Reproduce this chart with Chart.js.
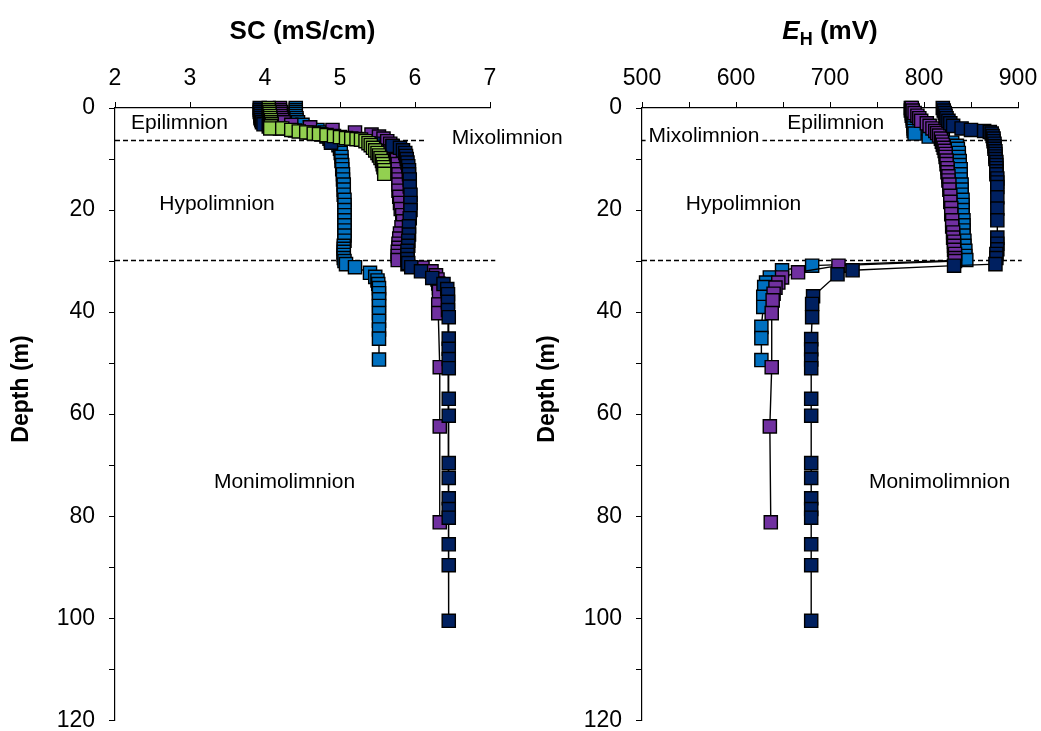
<!DOCTYPE html>
<html>
<head>
<meta charset="utf-8">
<title>SC and EH depth profiles</title>
<script src="https://cdn.jsdelivr.net/npm/chart.js@4.4.0/dist/chart.umd.min.js"></script>
<style>
  html, body { margin: 0; padding: 0; background: #fff; }
  #wrap { position: relative; width: 1041px; height: 731px; overflow: hidden; background: #fff; }
  #wrap canvas { position: absolute; top: 0; }
  #ehChart { left: 520px; z-index: 1; }
  #scChart { left: 0; z-index: 2; }
</style>
</head>
<body>
<div id="wrap">
  <canvas id="ehChart" width="521" height="731" style="width:521px;height:731px"></canvas>
  <canvas id="scChart" width="600" height="731" style="width:600px;height:731px"></canvas>
</div>
<script>
// ---------- Specific conductance profiles (depth in m, SC in mS/cm) ----------
const scGreenDepth = [0,0.4,0.8,1.2,1.6,2.0,2.4,2.8,3.2,3.6,4.0,4.0,4.3,4.6,4.8,5.0,5.1,5.3,5.5,5.7,5.9,6.0,6.1,6.2,6.5,6.9,7.3,7.8,8.3,8.8,9.3,9.8,10.4,11.0,11.6,12.2,12.9];
const scGreen = [4.05,4.05,4.06,4.06,4.07,4.07,4.08,4.08,4.09,4.08,4.07,4.23,4.35,4.45,4.55,4.65,4.72,4.82,4.92,5.0,5.08,5.15,5.22,5.28,5.34,5.38,5.41,5.44,5.47,5.5,5.52,5.54,5.56,5.57,5.58,5.59,5.59];

const scBlueDepth = [0,0.4,0.8,1.2,1.6,2.0,2.4,2.8,3.3,3.8,4.3,4.8,5.3,5.8,6.3,6.8,7.3,8.0,8.8,9.6,10.4,11.2,12.0,13,14,15,16,17,18,19,20,21,22,23,24,25,26,27,27.6,28.2,28.8,29.4,30.0,30.6,31.2,32.3,33.1,33.8,34.5,35.3,36.3,37.5,38.8,40.2,41.7,43.4,45.2,49.3];
const scBlue = [4.41,4.41,4.41,4.41,4.41,4.42,4.42,4.44,4.5,4.6,4.7,4.8,4.88,4.93,4.95,4.97,4.98,5.0,5.01,5.02,5.02,5.03,5.03,5.04,5.04,5.05,5.05,5.05,5.06,5.06,5.06,5.06,5.06,5.06,5.06,5.06,5.06,5.05,5.05,5.05,5.05,5.05,5.06,5.08,5.2,5.4,5.47,5.5,5.51,5.52,5.52,5.52,5.52,5.52,5.52,5.52,5.52,5.52];

const scPurpleDepth = [0,0.4,0.8,1.2,1.6,2.0,2.4,2.8,3.3,3.8,4.3,4.8,5.2,5.6,6.0,6.5,7.0,7.5,8.0,8.7,9.4,10.2,11.0,12.0,13.0,14.0,15.0,16.2,17.4,18.6,19.8,21.0,22.2,23.4,24.6,25.6,26.6,27.4,28.2,29.0,29.8,30.6,31.3,32.0,32.8,33.6,34.4,35.2,36.0,38.5,40.2,50.8,62.4,81.2];
const scPurple = [4.2,4.2,4.21,4.21,4.21,4.22,4.23,4.25,4.35,4.6,4.9,5.2,5.42,5.52,5.58,5.63,5.67,5.7,5.72,5.74,5.75,5.76,5.77,5.77,5.78,5.78,5.78,5.78,5.79,5.8,5.81,5.83,5.84,5.82,5.8,5.79,5.78,5.78,5.77,5.77,5.77,5.9,6.1,6.22,6.28,6.3,6.31,6.32,6.32,6.31,6.31,6.33,6.33,6.33];

const scNavyDepth = [0,0.4,0.8,1.2,1.6,2.0,2.4,2.8,3.2,3.6,4.0,4.4,4.8,5.2,5.6,6.0,6.4,6.8,7.0,7.4,7.8,8.3,8.8,9.4,10.0,10.7,11.4,12.2,13.0,14.0,15.4,17.0,18.6,20.0,21.6,23.2,24.8,26.0,27.0,28.0,28.8,29.6,30.4,31.2,32.0,33.3,34.5,35.5,36.5,38.0,39.6,41.0,45.2,47.2,49.2,51.0,57.0,60.3,69.6,72.5,76.5,78.6,80.3,85.5,89.6,100.5];
const scNavy = [3.93,3.93,3.93,3.94,3.94,3.94,3.95,3.96,3.98,4.05,4.2,4.4,4.6,4.75,4.82,4.86,4.88,4.88,5.45,5.7,5.8,5.84,5.87,5.88,5.89,5.9,5.91,5.92,5.92,5.93,5.93,5.94,5.94,5.94,5.93,5.92,5.92,5.91,5.91,5.9,5.9,5.9,5.91,5.95,6.08,6.23,6.38,6.43,6.44,6.44,6.44,6.45,6.45,6.45,6.45,6.45,6.45,6.45,6.45,6.45,6.45,6.45,6.45,6.45,6.45,6.45];

// ---------- Redox potential profiles (depth in m, EH in mV) ----------
const ehBlueDepth = [0,0.5,1.0,1.5,2.0,2.5,3.0,3.5,4.0,4.5,5.0,5.6,6.2,6.8,7.4,8.0,8.8,9.6,10.4,11.2,12.0,13,14,15,16,17,18,19,20,21,22,23,24,25,26,27,28,29,29.8,30.9,31.8,33.2,34.2,35.1,37.0,39.0,42.9,45.1,49.4];
const ehBlue = [786,786,787,787,788,788,789,789,789,789,790,805,820,830,835,836,837,837,838,838,839,839,839,840,840,840,841,841,841,841,842,842,842,842,843,843,844,844,845,681,649,636,632,630,629,629,627,627,627];

const ehPurpleDepth = [0,0.5,1.0,1.5,2.0,2.5,3.0,3.5,4.0,4.5,4.9,5.4,6.0,6.6,7.2,7.8,8.4,9.0,9.6,10.3,11.0,11.8,12.6,13.4,14.2,15.0,16.0,17.2,18.4,19.6,20.8,22.0,23.2,24.4,25.4,26.2,27.0,27.8,28.6,29.4,30.0,30.9,32.2,33.2,34.2,35.2,36.4,37.7,40.2,50.8,62.4,81.2];
const ehPurple = [787,788,790,793,795,797,803,806,809,812,814,816,818,819,820,821,822,823,823,824,824,825,825,826,826,827,827,828,828,829,829,830,830,831,831,832,832,832,833,833,833,709,666,649,645,642,640,639,638,638,636,637];

const ehNavyDepth = [0,0.5,1.0,1.5,2.0,2.5,3.0,3.5,4.0,4.3,4.5,4.7,5.0,5.5,6.0,6.5,7.0,7.5,8.0,8.5,9.0,9.5,10.0,10.6,11.2,11.8,12.4,13.0,13.8,14.6,15.5,17.5,19.7,22.0,25.4,26.6,27.7,28.6,29.4,30.6,30.9,31.8,32.6,36.9,38.4,41.0,45.3,47.3,49.3,51.0,57.0,60.3,69.6,72.5,76.5,78.6,80.3,85.5,89.6,100.5];
const ehNavy = [820,821,822,823,824,826,828,831,840,850,864,870,872,873,874,874,875,875,875,876,876,876,876,877,877,877,877,877,878,878,878,878,878,878,878,878,878,877,877,876,832,724,708,682,681,681,680,680,680,680,680,680,680,680,680,680,680,680,680,680];

// Axis tick values
const depthTicks = [0, 20, 40, 60, 80, 100, 120];
const scTicks = [2, 3, 4, 5, 6, 7];
const ehTicks = [500, 600, 700, 800, 900];

// Layer boundaries (m)
const mixoBottom = 6.2;
const hypoBottom = 29.7;

const COLORS = { green: '#92D050', purple: '#7030A0', blue: '#0070C0', navy: '#002060' };
const FONT = '"Liberation Sans", Arial, Helvetica, sans-serif';

Chart.defaults.color = '#000';
Chart.defaults.font.family = FONT;

function pairs(vals, depths) {
  return depths.map((d, i) => ({ x: vals[i], y: d }));
}

function profile(vals, depths, color, order) {
  return {
    data: pairs(vals, depths),
    showLine: true,
    borderColor: '#000',
    borderWidth: 1.4,
    tension: 0,
    pointStyle: 'rect',
    pointRadius: 9.3,
    pointBorderWidth: 1.4,
    pointBorderColor: '#000',
    pointBackgroundColor: color,
    backgroundColor: color,
    clip: false,
    order: order
  };
}

// Dashed layer boundaries, layer names and axis titles
const profilePlugin = {
  id: 'profileDecor',
  beforeDatasetsDraw(chart, args, opts) {
    const ctx = chart.ctx, xs = chart.scales.x, ys = chart.scales.y;
    ctx.save();
    ctx.strokeStyle = '#000';
    ctx.lineWidth = 1.3;
    ctx.setLineDash([5, 3]);
    opts.lines.forEach(l => {
      const y = Math.round(ys.getPixelForValue(l.depth)) + 0.5;
      ctx.beginPath();
      ctx.moveTo(xs.getPixelForValue(l.from), y);
      ctx.lineTo(xs.getPixelForValue(l.to), y);
      ctx.stroke();
    });
    ctx.setLineDash([]);
    ctx.font = '21px ' + FONT;
    ctx.textAlign = 'center';
    ctx.textBaseline = 'middle';
    opts.labels.forEach(t => {
      const x = xs.getPixelForValue(t.x), y = ys.getPixelForValue(t.y);
      if (t.box) {
        const w = ctx.measureText(t.text).width;
        ctx.fillStyle = '#fff';
        ctx.fillRect(x - w / 2 - 3, y - 12, w + 6, 24);
      }
      ctx.fillStyle = '#000';
      ctx.fillText(t.text, x, y);
    });
    ctx.restore();
  },
  afterDraw(chart, args, opts) {
    const ctx = chart.ctx, area = chart.chartArea;
    ctx.save();
    ctx.fillStyle = '#000';
    // depth title
    ctx.translate(opts.yTitleX, opts.yTitleY);
    ctx.rotate(-Math.PI / 2);
    ctx.font = 'bold 23px ' + FONT;
    ctx.textAlign = 'center';
    ctx.textBaseline = 'middle';
    ctx.fillText('Depth (m)', 0, 0);
    ctx.restore();
    // top title, built from runs so subscripts and italics can be mixed
    ctx.save();
    ctx.fillStyle = '#000';
    ctx.textBaseline = 'alphabetic';
    ctx.textAlign = 'left';
    const runs = opts.title;
    let total = 0;
    runs.forEach(r => { ctx.font = r.font; r.w = ctx.measureText(r.text).width; total += r.w; });
    let x = (area.left + area.right) / 2 - total / 2;
    runs.forEach(r => {
      ctx.font = r.font;
      ctx.fillText(r.text, x, opts.titleBaseline + (r.dy || 0));
      x += r.w;
    });
    ctx.restore();
  }
};

function axes(xMin, xMax, xStep, xLabels, yWidth) {
  return {
    x: {
      type: 'linear', position: 'top', min: xMin, max: xMax,
      ticks: {
        stepSize: xStep, autoSkip: false, padding: 10,
        font: { size: 23, family: FONT }, color: '#000',
        callback: v => (xLabels.includes(v) ? String(v) : '')
      },
      grid: { drawOnChartArea: false, drawTicks: true, tickLength: 6, color: '#000', tickColor: '#000', lineWidth: 1 },
      border: { display: true, color: '#000', width: 1.2 },
      afterFit: s => { s.height = 108; s.paddingLeft = 0; s.paddingRight = 0; }
    },
    y: {
      type: 'linear', reverse: true, min: 0, max: 120,
      ticks: {
        stepSize: 10, autoSkip: false, padding: 14,
        font: { size: 23, family: FONT }, color: '#000',
        callback: v => (depthTicks.includes(v) ? String(v) : '')
      },
      grid: { drawOnChartArea: false, drawTicks: true, tickLength: 6, color: '#000', tickColor: '#000', lineWidth: 1 },
      border: { display: true, color: '#000', width: 1.2 },
      afterFit: s => { s.width = yWidth; s.paddingTop = 0; s.paddingBottom = 0; }
    }
  };
}

const common = {
  responsive: false,
  devicePixelRatio: 1,
  animation: false,
  events: [],
  plugins: { legend: { display: false }, tooltip: { enabled: false } }
};

// Specific conductance panel
new Chart(document.getElementById('scChart'), {
  type: 'scatter',
  data: {
    datasets: [
      profile(scGreen, scGreenDepth, COLORS.green, 0),
      profile(scNavy, scNavyDepth, COLORS.navy, 1),
      profile(scPurple, scPurpleDepth, COLORS.purple, 2),
      profile(scBlue, scBlueDepth, COLORS.blue, 3)
    ]
  },
  options: Object.assign({}, common, {
    layout: { padding: { left: 0, top: 0, right: 110, bottom: 8 } },
    scales: axes(2, 7, 1, scTicks, 115),
    plugins: Object.assign({}, common.plugins, {
      profileDecor: {
        lines: [
          { depth: mixoBottom, from: 2, to: 6.12 },
          { depth: hypoBottom, from: 2, to: 7.07 }
        ],
        labels: [
          { text: 'Epilimnion', x: 2.86, y: 3.0, box: true },
          { text: 'Mixolimnion', x: 7.23, y: 6.0 },
          { text: 'Hypolimnion', x: 3.36, y: 18.9 },
          { text: 'Monimolimnion', x: 4.26, y: 73.4 }
        ],
        yTitleX: 22, yTitleY: 389,
        titleBaseline: 39,
        title: [{ text: 'SC (mS/cm)', font: 'bold 26px ' + FONT }]
      }
    })
  }),
  plugins: [profilePlugin]
});

// Redox potential panel
new Chart(document.getElementById('ehChart'), {
  type: 'scatter',
  data: {
    datasets: [
      profile(ehNavy, ehNavyDepth, COLORS.navy, 1),
      profile(ehPurple, ehPurpleDepth, COLORS.purple, 2),
      profile(ehBlue, ehBlueDepth, COLORS.blue, 3)
    ]
  },
  options: Object.assign({}, common, {
    layout: { padding: { left: 0, top: 0, right: 23, bottom: 8 } },
    scales: axes(500, 900, 50, ehTicks, 122),
    plugins: Object.assign({}, common.plugins, {
      profileDecor: {
        lines: [
          { depth: mixoBottom, from: 500, to: 893 },
          { depth: hypoBottom, from: 500, to: 904 }
        ],
        labels: [
          { text: 'Epilimnion', x: 706, y: 2.9, box: true },
          { text: 'Mixolimnion', x: 566, y: 5.5, box: true },
          { text: 'Hypolimnion', x: 608, y: 18.9 },
          { text: 'Monimolimnion', x: 816.5, y: 73.4 }
        ],
        yTitleX: 28, yTitleY: 389,
        titleBaseline: 39,
        title: [
          { text: 'E', font: 'italic bold 26px ' + FONT },
          { text: 'H', font: 'bold 18px ' + FONT, dy: 6 },
          { text: ' (mV)', font: 'bold 26px ' + FONT }
        ]
      }
    })
  }),
  plugins: [profilePlugin]
});
</script>
</body>
</html>
